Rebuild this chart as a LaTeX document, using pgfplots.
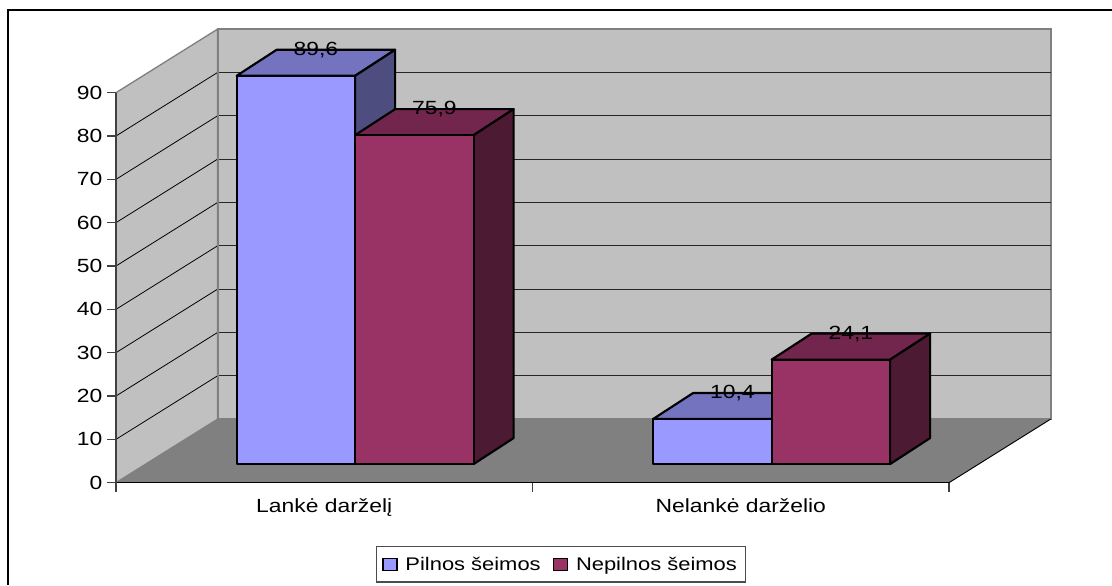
\documentclass[border=0pt]{standalone}
\usepackage{fontspec}
\setmainfont[FakeStretch=1.2]{Liberation Sans}
\usepackage{pgfplots}
\pgfplotsset{compat=1.18}
\definecolor{barA}{HTML}{9999FF}
\definecolor{barAtop}{HTML}{7373BF}
\definecolor{barAside}{HTML}{4D4D80}
\definecolor{barB}{HTML}{993366}
\definecolor{barBtop}{HTML}{73264D}
\definecolor{barBside}{HTML}{4D1A33}
\definecolor{wall}{HTML}{C0C0C0}
\definecolor{floorc}{HTML}{808080}
\definecolor{axisc}{HTML}{404040}
% depth of the floor and of the bars, in axis units
\def\wx{0.2437}\def\wy{14.65}
\def\fx{0.0497}\def\fy{4.3}
\def\dx{0.096}\def\dy{6.0}
\def\bw{0.2845}
\newcommand{\threedbar}[6]{%
  \pgfmathsetmacro\xa{#1+\fx}\pgfmathsetmacro\xb{#1+\fx+\bw}%
  \pgfmathsetmacro\xc{#1+\fx+\dx}\pgfmathsetmacro\xd{#1+\fx+\bw+\dx}%
  \pgfmathsetmacro\ya{\fy}\pgfmathsetmacro\yb{\fy+#2}%
  \pgfmathsetmacro\yc{\fy+\dy}\pgfmathsetmacro\yd{\fy+#2+\dy}%
  \edef\temp{%
    \noexpand\addplot[forget plot,fill=#5,draw=black,line width=1.6pt,line join=round] coordinates {(\xb,\yb)(\xa,\yb)(\xc,\yd)(\xd,\yd)} --cycle;
    \noexpand\addplot[forget plot,fill=#6,draw=black,line width=1.6pt,line join=round] coordinates {(\xb,\ya)(\xd,\yc)(\xd,\yd)(\xb,\yb)} --cycle;
    \noexpand\addplot[forget plot,fill=#4,draw=black,line width=1.6pt,line join=round] coordinates {(\xa,\ya)(\xb,\ya)(\xb,\yb)(\xa,\yb)} --cycle;
  }\temp
}
\newcommand{\barlabel}[3]{%
  \pgfmathsetmacro\xc{#1+\fx+0.5*\bw+0.5*\dx}\pgfmathsetmacro\yd{\fy+#2+\dy}%
  \edef\temp{\noexpand\node[text=black,inner sep=0pt,font=\noexpand\fontsize{14.3}{16}\noexpand\selectfont] at (axis cs:\xc,\yd) {#3};}\temp
}
\begin{document}
\begin{tikzpicture}
\useasboundingbox (0,0) rectangle (834pt,-438.75pt);
\fill[white] (0,0) rectangle (834pt,-438.75pt);
\draw[black,line width=1.9pt,line cap=butt] (6pt,-438.75pt) -- (6pt,-7.5pt) -- (834pt,-7.5pt);
\begin{axis}[
  at={(87pt,-362pt)}, anchor=south west,
  scale only axis, width=624.75pt, height=292.5pt,
  xmin=0, xmax=2, ymin=0, ymax=90,
  clip=false, axis on top,
  axis x line*=bottom, axis y line*=left,
  x axis line style={black,line width=1.2pt,-},
  y axis line style={axisc,line width=1.5pt,-},
  xtick={0,1,2}, xticklabels={,,},
  ytick={0,10,...,90},
  extra x ticks={0.5,1.5},
  extra x tick labels={Lankė darželį,Nelankė darželio},
  extra x tick style={major tick length=0pt, tick style={draw=none}},
  major tick length=6.75pt,
  tick align=outside,
  tick style={axisc,line width=1pt},
  x tick style={axisc,line width=1pt},
  tick label style={black,font=\fontsize{14.3}{16}\selectfont},
  /pgf/number format/assume math mode=true,
  xticklabel style={yshift=-8.5pt},
  legend columns=2,
  legend style={
    at={(0.534,-0.2095)}, anchor=center,
    draw=black!70, line width=0.8pt, fill=white,
    font=\fontsize{13.7}{16}\selectfont,
    inner xsep=4.5pt, inner ysep=5.5pt,
    /tikz/every even column/.append style={column sep=7pt},
  },
]
% walls and floor
\addplot[forget plot,fill=wall,draw=floorc,line width=1.5pt] coordinates {(\wx,\wy)(2+\wx,\wy)(2+\wx,90+\wy)(\wx,90+\wy)} --cycle;
\addplot[forget plot,fill=wall,draw=floorc,line width=1pt] coordinates {(0,0)(\wx,\wy)(\wx,90+\wy)(0,90)} --cycle;
\addplot[forget plot,fill=floorc,draw=none] coordinates {(0,0)(2,0)(2.2437,14.65)(\wx,\wy)} --cycle;
\addplot[forget plot,black,line width=0.7pt] coordinates {(2,0)(2.2437,14.65)};
% grid lines
\pgfplotsinvokeforeach{10,20,...,80}{
  \pgfmathsetmacro\gy{#1+\wy}
  \edef\temp{\noexpand\addplot[forget plot,black,line width=0.6pt] coordinates {(0,#1)(\wx,\gy)};}\temp
  \edef\temp{\noexpand\addplot[forget plot,black!85,line width=0.8pt] coordinates {(\wx,\gy)(2.2437,\gy)};}\temp
}
\addplot[forget plot,floorc,line width=1.5pt] coordinates {(\wx,\wy)(\wx,104.65)};
% bars
\threedbar{0.24}{89.6}{}{barA}{barAtop}{barAside}
\threedbar{0.5245}{75.9}{}{barB}{barBtop}{barBside}
\threedbar{1.24}{10.4}{}{barA}{barAtop}{barAside}
\threedbar{1.5245}{24.1}{}{barB}{barBtop}{barBside}
\barlabel{0.24}{89.6}{89,6}
\barlabel{0.5245}{75.9}{75,9}
\barlabel{1.24}{10.4}{10,4}
\barlabel{1.5245}{24.1}{24,1}
\addlegendimage{legend image code/.code={\draw[fill=barA,draw=black,line width=1.2pt] (0pt,-4.5pt) rectangle (10.5pt,4.5pt); \path (14.5pt,0pt);}}
\addlegendentry{Pilnos šeimos}
\addlegendimage{legend image code/.code={\draw[fill=barB,draw=black,line width=1.2pt] (0pt,-4.5pt) rectangle (10.5pt,4.5pt); \path (14.5pt,0pt);}}
\addlegendentry{Nepilnos šeimos}
\end{axis}
\end{tikzpicture}
\end{document}
